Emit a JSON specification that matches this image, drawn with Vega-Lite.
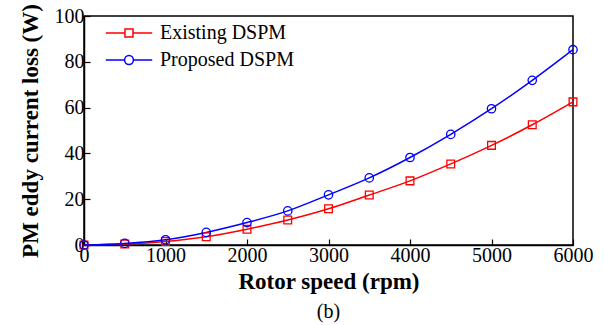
{
  "$schema": "https://vega.github.io/schema/vega-lite/v6.json",
  "autosize": {"type": "none"},
  "padding": {"left": 84, "top": 16, "right": 31, "bottom": 80},
  "width": 489,
  "height": 229,
  "background": "white",
  "title": {"text": "(b)", "orient": "bottom", "offset": 9, "font": "Liberation Serif", "fontSize": 20, "fontWeight": "normal", "color": "black", "anchor": "middle"},
  "config": {
    "view": {"stroke": "black", "strokeWidth": 1.5},
    "font": "Liberation Serif",
    "axis": {
      "labelFont": "Liberation Serif", "labelFontSize": 20, "labelColor": "black",
      "titleFont": "Liberation Serif", "titleFontSize": 23, "titleFontWeight": "bold", "titleColor": "black",
      "domainColor": "black", "domainWidth": 1.5, "tickColor": "black", "tickWidth": 1.2, "tickSize": -6,
      "grid": false
    }
  },
  "data": {"values": [
    {"speed": 0, "loss": 0, "type": "Existing DSPM"},
    {"speed": 500, "loss": 0.4, "type": "Existing DSPM"},
    {"speed": 1000, "loss": 1.5, "type": "Existing DSPM"},
    {"speed": 1500, "loss": 3.6, "type": "Existing DSPM"},
    {"speed": 2000, "loss": 6.9, "type": "Existing DSPM"},
    {"speed": 2500, "loss": 10.9, "type": "Existing DSPM"},
    {"speed": 3000, "loss": 15.8, "type": "Existing DSPM"},
    {"speed": 3500, "loss": 21.8, "type": "Existing DSPM"},
    {"speed": 4000, "loss": 28.0, "type": "Existing DSPM"},
    {"speed": 4500, "loss": 35.4, "type": "Existing DSPM"},
    {"speed": 5000, "loss": 43.5, "type": "Existing DSPM"},
    {"speed": 5500, "loss": 52.5, "type": "Existing DSPM"},
    {"speed": 6000, "loss": 62.5, "type": "Existing DSPM"},
    {"speed": 0, "loss": 0, "type": "Proposed DSPM"},
    {"speed": 500, "loss": 0.7, "type": "Proposed DSPM"},
    {"speed": 1000, "loss": 2.3, "type": "Proposed DSPM"},
    {"speed": 1500, "loss": 5.5, "type": "Proposed DSPM"},
    {"speed": 2000, "loss": 9.8, "type": "Proposed DSPM"},
    {"speed": 2500, "loss": 14.9, "type": "Proposed DSPM"},
    {"speed": 3000, "loss": 21.9, "type": "Proposed DSPM"},
    {"speed": 3500, "loss": 29.3, "type": "Proposed DSPM"},
    {"speed": 4000, "loss": 38.2, "type": "Proposed DSPM"},
    {"speed": 4500, "loss": 48.3, "type": "Proposed DSPM"},
    {"speed": 5000, "loss": 59.5, "type": "Proposed DSPM"},
    {"speed": 5500, "loss": 71.9, "type": "Proposed DSPM"},
    {"speed": 6000, "loss": 85.3, "type": "Proposed DSPM"}
  ]},
  "encoding": {
    "x": {"field": "speed", "type": "quantitative", "scale": {"domain": [0, 6000], "nice": false}, "axis": {"values": [0,1000,2000,3000,4000,5000,6000], "format": "d", "title": "Rotor speed (rpm)", "labelPadding": 6, "titlePadding": 5, "labelFlush": false}},
    "y": {"field": "loss", "type": "quantitative", "scale": {"domain": [0, 100], "nice": false}, "axis": {"values": [0,20,40,60,80,100], "title": "PM eddy current loss (W)", "labelPadding": 6, "titlePadding": 12}},
    "color": {"field": "type", "type": "nominal", "scale": {"domain": ["Existing DSPM", "Proposed DSPM"], "range": ["#ff0000", "#0000ff"]},
      "legend": {"orient": "none", "legendX": 35, "legendY": 7, "title": null, "labelFont": "Liberation Serif", "labelFontSize": 20, "labelColor": "black", "labelOffset": 21, "symbolSize": 256, "rowPadding": 7,
        "symbolStrokeWidth": 1.5,
        "encode": {"symbols": {"update": {"shape": {"signal": "datum.value == 'Existing DSPM' ? 'M-2.9,0H-0.5M0.5,0H2.9M-0.5,-0.5H0.5V0.5H-0.5Z' : 'M-2.9,0H-0.55M0.55,0H2.9M-0.55,0A0.55,0.55 0 1,1 0.55,0A0.55,0.55 0 1,1 -0.55,0Z'"}, "fill": {"value": "transparent"}, "strokeWidth": {"value": 1.5}}}}}}
  },
  "layer": [
    {"mark": {"type": "line", "strokeWidth": 1.5, "interpolate": "monotone"}},
    {"transform": [{"filter": "datum.type == 'Existing DSPM'"}],
     "mark": {"type": "point", "shape": "square", "filled": false, "size": 60, "strokeWidth": 1.3, "opacity": 1}},
    {"transform": [{"filter": "datum.type == 'Proposed DSPM'"}],
     "mark": {"type": "point", "shape": "circle", "filled": false, "size": 70, "strokeWidth": 1.3, "opacity": 1}}
  ]
}
